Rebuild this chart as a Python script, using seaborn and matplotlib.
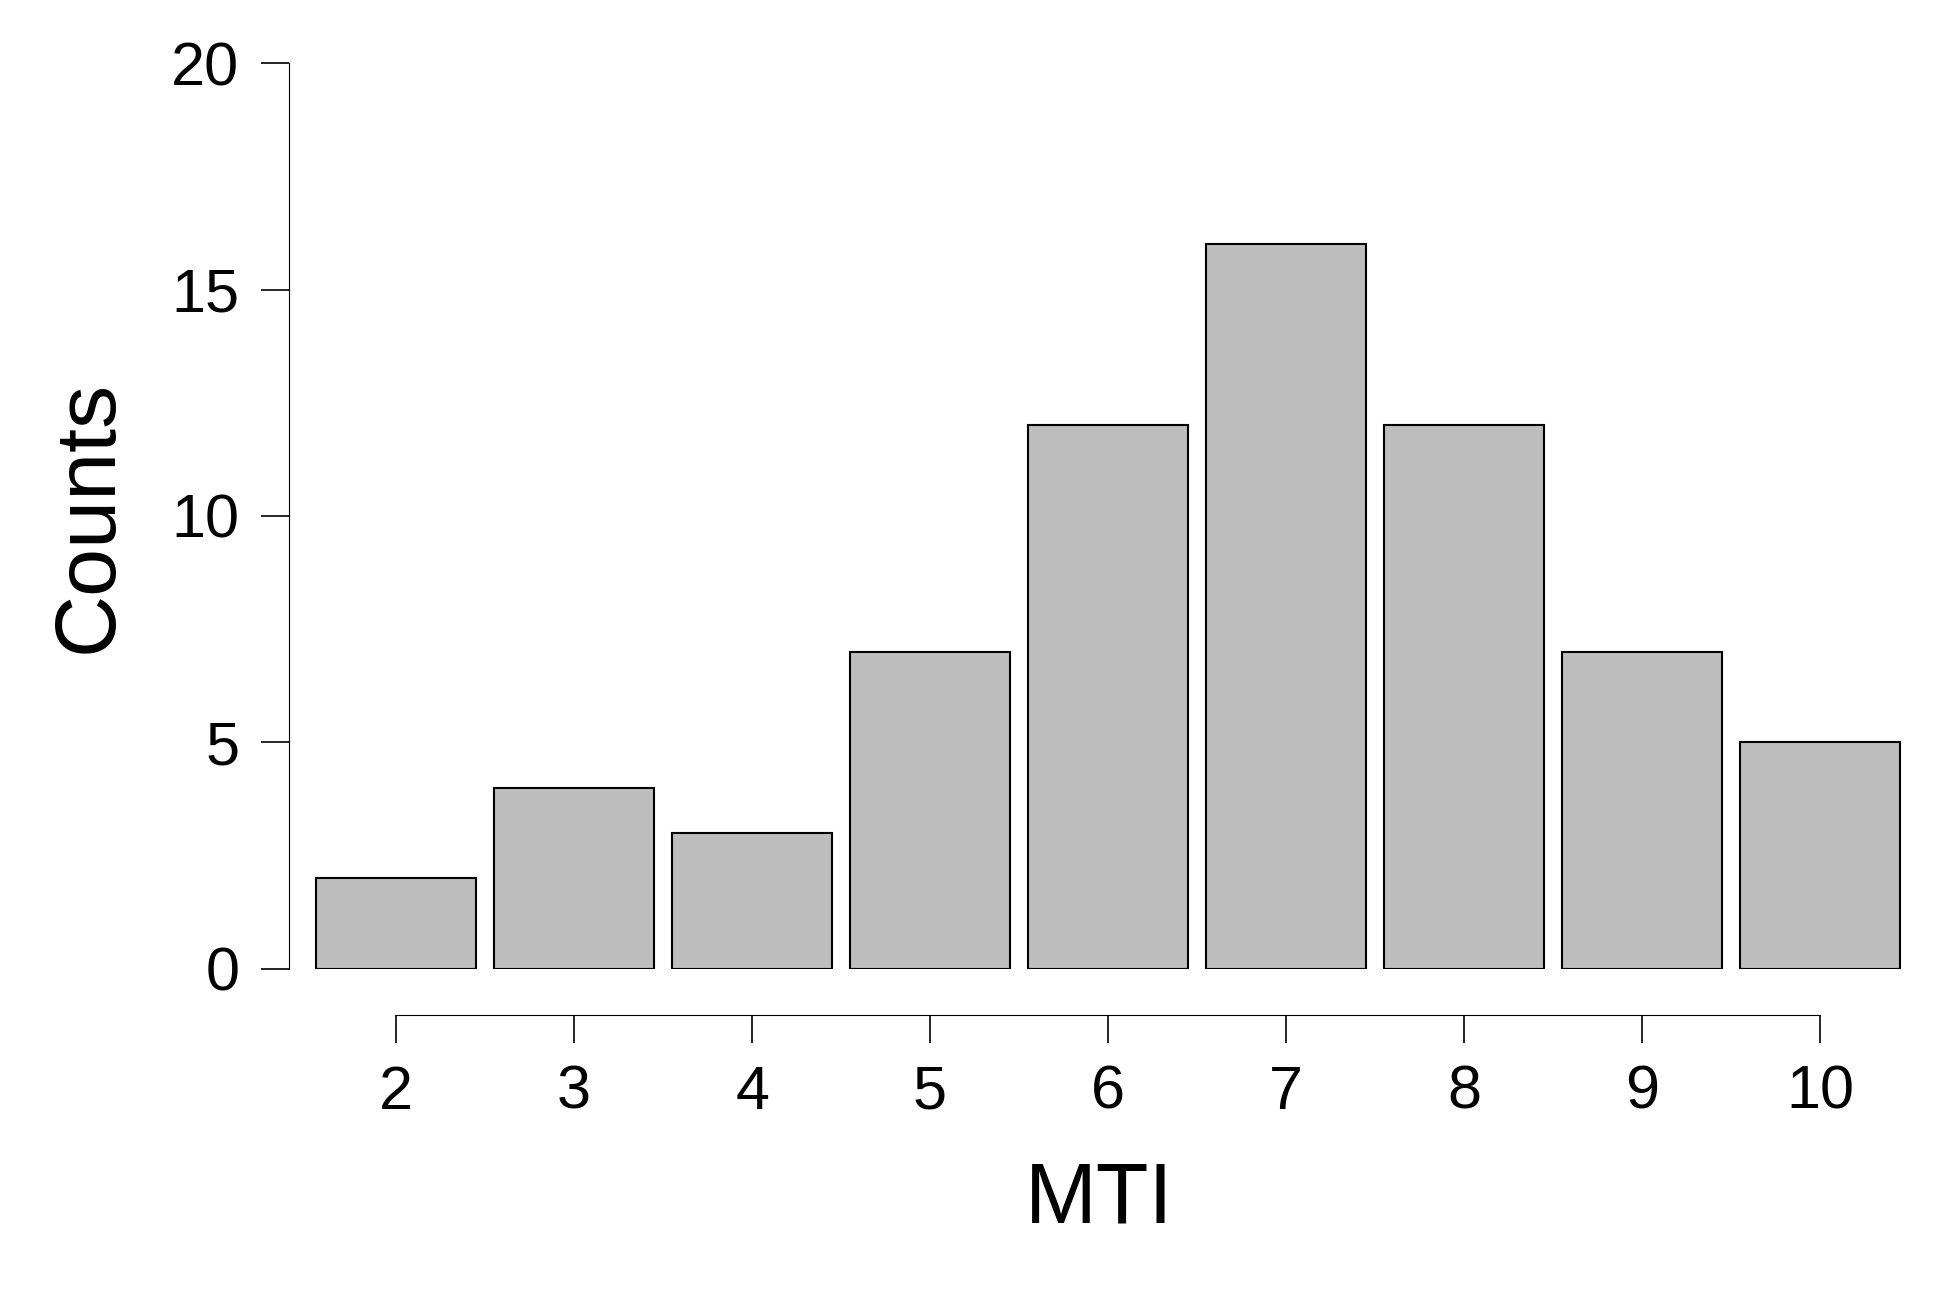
import matplotlib
matplotlib.use("Agg")
import matplotlib.pyplot as plt
import pandas as pd
import seaborn as sns

mti = [2, 3, 4, 5, 6, 7, 8, 9, 10]
counts = [2, 4, 3, 7, 12, 16, 12, 7, 5]

df = pd.DataFrame({"MTI": mti, "Counts": counts})

sns.set_style("ticks")
plt.rcParams['font.family'] = ['Liberation Sans', 'DejaVu Sans']
plt.rcParams['text.color'] = 'black'
plt.rcParams['axes.labelcolor'] = 'black'
plt.rcParams['xtick.color'] = 'black'
plt.rcParams['ytick.color'] = 'black'

fig = plt.figure(figsize=(19.42, 12.9), dpi=100)
ax = fig.add_axes([0.149, 0.249, 0.834, 0.702])

sns.barplot(data=df, x="MTI", y="Counts", native_scale=True, width=0.9,
            color="#bebebe", saturation=1, edgecolor="black", linewidth=1.5, ax=ax)

ax.set_xlim(1.40, 10.50)
ax.set_ylim(0, 20)
ax.set_xticks(mti)
ax.set_yticks([0, 5, 10, 15, 20])
ax.spines['top'].set_visible(False)
ax.spines['right'].set_visible(False)
ax.spines['bottom'].set_position(('outward', 33))
ax.spines['bottom'].set_bounds(2, 10)
for s in ax.spines.values():
    s.set_color('black')
ax.tick_params(axis='both', labelsize=44, length=20, width=1.2, pad=16)
ax.set_xlabel("MTI", fontsize=62, labelpad=28)
ax.set_ylabel("Counts", fontsize=62, labelpad=30)

fig.savefig("out.png", dpi=100)
